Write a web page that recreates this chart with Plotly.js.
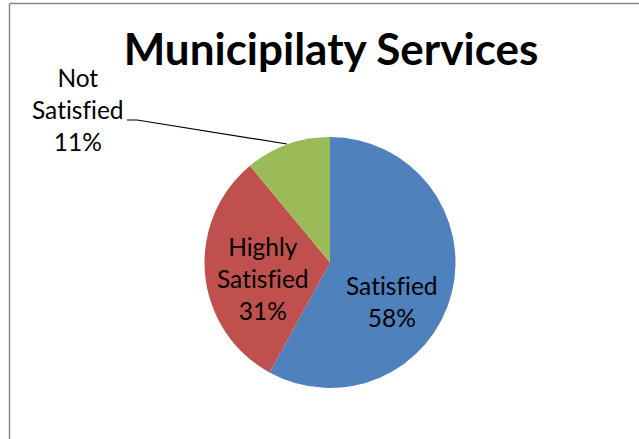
<!DOCTYPE html>
<html><head><meta charset="utf-8">
<script src="https://cdn.plot.ly/plotly-3.0.1.min.js"></script>
<style>html,body{margin:0;padding:0;background:#fff}#chart{width:639px;height:439px}
text{font-variant-ligatures:none;font-feature-settings:"liga" 0}</style>
</head><body><div id="chart"></div>
<script>
const categories = ["Satisfied", "Highly Satisfied", "Not Satisfied"];
const displayLabels = ["Satisfied", "Highly<br>Satisfied", "Not<br>Satisfied"];
const values = [58, 31, 11];
const colors = ["#4F81BD", "#C0504D", "#9BBB59"];
const titleText = "Municipilaty Services";
// label block centres (pixels) for each slice's data label
const labelPosX = [392, 263, 78];
const labelPosY = [301, 278, 110];
const W = 639, H = 439;
const FONT = "Lato, 'Open Sans', sans-serif";
const LABEL_SIZE = 24.5;

const total = values.reduce((a, b) => a + b, 0);
const pct = values.map(v => Math.round(v / total * 100) + "%");

const trace = {
  type: "pie",
  labels: categories,
  values: values,
  textinfo: "none",
  sort: false,
  direction: "clockwise",
  rotation: 0,
  marker: {colors: colors, line: {width: 0}},
  hoverinfo: "none",
  showlegend: false,
  domain: {x: [204.5 / W, 455.5 / W], y: [51 / H, 302 / H]}
};

const px = x => x / W, py = y => 1 - y / H;

const annotations = categories.map((c, i) => ({
  text: displayLabels[i] + "<br>" + pct[i],
  x: px(labelPosX[i]), y: py(labelPosY[i]), xref: "paper", yref: "paper",
  xanchor: "center", yanchor: "middle", showarrow: false,
  font: {family: FONT, size: LABEL_SIZE, color: "#000"}
}));

const layout = {
  width: W, height: H,
  margin: {l: 0, r: 0, t: 0, b: 0},
  paper_bgcolor: "#fff",
  showlegend: false,
  title: {text: "<b>" + titleText + "</b>", font: {family: FONT, size: 44, color: "#000"}, x: px(331), xanchor: "center", y: py(50), yanchor: "middle"},
  annotations: annotations,
  shapes: [
    {type: "line", xref: "paper", yref: "paper", x0: px(9.5), y0: py(3.5), x1: 1.05, y1: py(3.5), line: {color: "#878787", width: 1.5}},
    {type: "line", xref: "paper", yref: "paper", x0: px(9.5), y0: py(3.5), x1: px(9.5), y1: -0.05, line: {color: "#878787", width: 1.5}},
    {type: "path", xref: "paper", yref: "paper",
     path: "M " + px(127) + "," + py(120) + " L " + px(137) + "," + py(120) + " L " + px(287) + "," + py(144),
     line: {color: "#000", width: 1.2}}
  ]
};

Plotly.newPlot("chart", [trace], layout, {displayModeBar: false, staticPlot: true});
</script></body></html>
